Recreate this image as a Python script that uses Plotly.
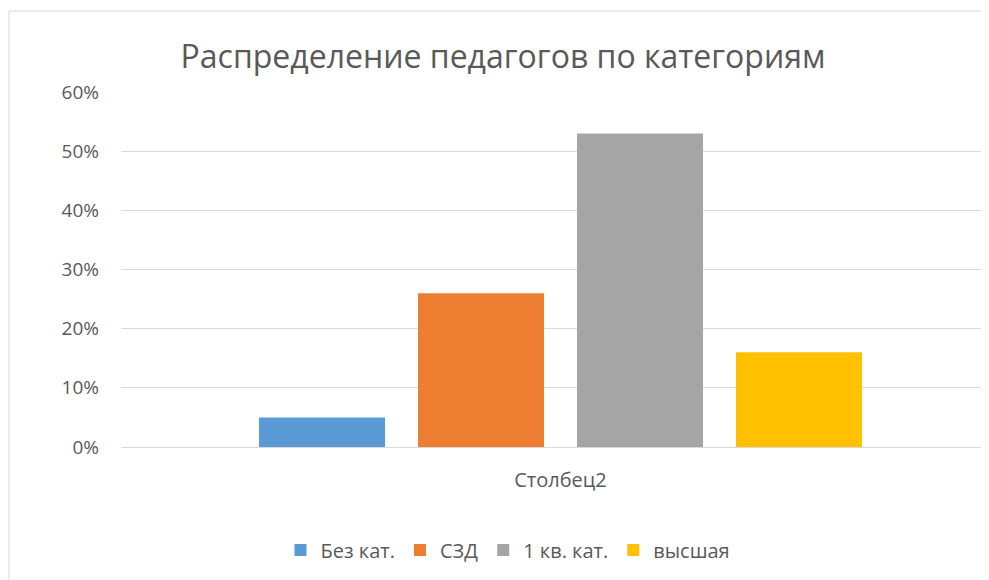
import plotly.graph_objects as go

title_text = "Распределение педагогов по категориям"
category = ["Столбец2"]
series_names = ["Без кат.", "СЗД", "1 кв. кат.", "высшая"]
series_values = [0.05, 0.26, 0.53, 0.16]
series_colors = ["#5B9BD5", "#ED7D31", "#A5A5A5", "#FFC000"]
y_ticks = [0, 0.1, 0.2, 0.3, 0.4, 0.5, 0.6]

# page body adds an 8px margin, so figure coordinates are shifted by 8px
OFF = 8
W, H = 989 - OFF, 580 - OFF
L, R, T = 121 - OFF, 0, 92 - OFF
plot_bottom = 447 - OFF
B = H - plot_bottom
pw = W - L - R
ph = H - T - B

fig = go.Figure()
for name, val, col in zip(series_names, series_values, series_colors):
    fig.add_trace(go.Bar(x=category, y=[val], name=name, marker=dict(color=col, line=dict(width=0))))

font_fam = "Open Sans, Noto Sans, sans-serif"
txt = "#595959"

# chart-area border (left/top edges visible)
bx0 = (9 - OFF - L) / pw
by1 = (plot_bottom - (11 - OFF)) / ph
fig.add_shape(type="rect", xref="paper", yref="paper", x0=bx0, x1=1.2, y0=-1, y1=by1,
              line=dict(color="#d9d9d9", width=1), fillcolor="rgba(0,0,0,0)", layer="below")

fig.update_layout(
    width=W, height=H,
    margin=dict(l=L, r=R, t=T, b=B, pad=0),
    paper_bgcolor="white", plot_bgcolor="white",
    barmode="group", bargap=0.2765, bargroupgap=0.2075,
    title=dict(text=title_text, x=(503 - OFF) / W, xanchor="center", y=1 - (57 - OFF) / H,
               yanchor="middle", font=dict(family=font_fam, size=32, color=txt)),
    font=dict(family=font_fam, color=txt),
    showlegend=True,
    legend=dict(orientation="h", x=((508 - OFF) - L) / pw, xanchor="center",
                y=(plot_bottom - (550 - OFF)) / ph, yanchor="middle",
                font=dict(family=font_fam, size=20, color=txt), traceorder="normal"),
    xaxis=dict(type="category", range=[-0.5, -0.5 + pw / 879], showgrid=False, showline=False,
               zeroline=False, ticks="", tickfont=dict(family=font_fam, size=20, color=txt),
               ticklabelstandoff=19, fixedrange=True),
    yaxis=dict(range=[0, 0.6], tickvals=y_ticks, tickformat=".0%", showgrid=True,
               gridcolor="#d9d9d9", gridwidth=1, zeroline=True, zerolinecolor="#d9d9d9",
               zerolinewidth=1, showline=False, ticks="", ticklabelstandoff=21,
               tickfont=dict(family=font_fam, size=19, color=txt)),
)

fig.write_html("out.html")
